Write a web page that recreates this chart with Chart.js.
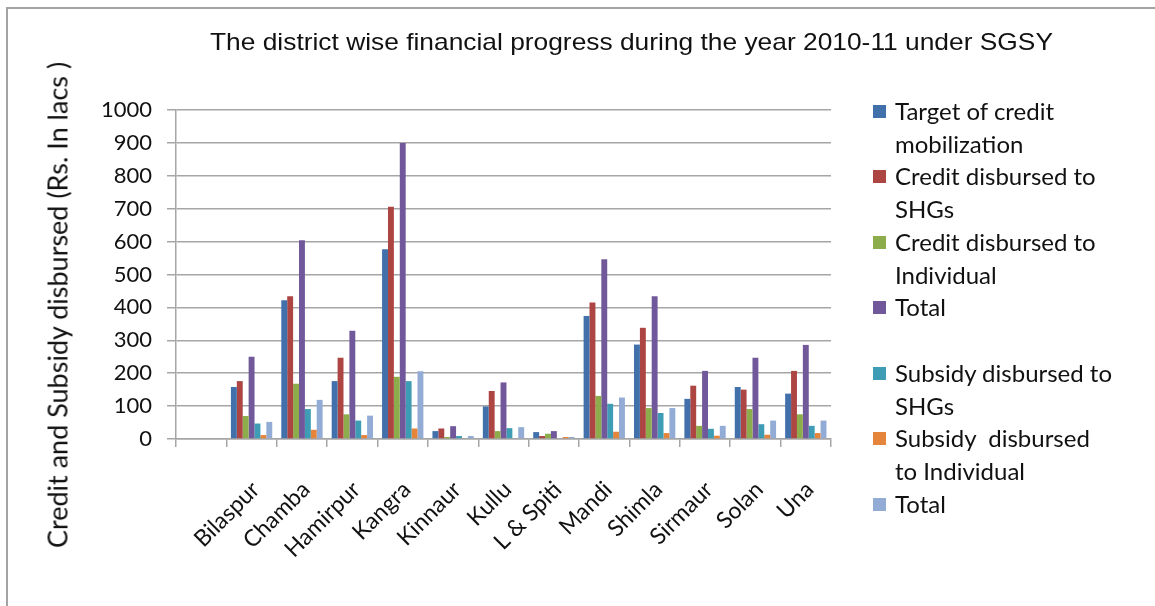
<!DOCTYPE html>
<html>
<head>
<meta charset="utf-8">
<script src="https://cdn.jsdelivr.net/npm/chart.js@4/dist/chart.umd.min.js"></script>
<style>
  html, body { margin: 0; padding: 0; background: #fff; }
  #wrap { position: relative; width: 1155px; height: 606px; overflow: hidden; }
  #frame { position: absolute; left: 6px; top: 7px; width: 1200px; height: 650px;
           border: 2px solid #a3a3a3; box-sizing: border-box; }
  #chart { position: absolute; left: 0; top: 0; }
  #title { position: absolute; left: 210px; top: 28px; white-space: nowrap;
           font-family: 'Liberation Sans Narrow', 'Liberation Sans', sans-serif;
           font-size: 24px; color: #111; transform-origin: 0 0; }
  #ytitle { position: absolute; left: 57px; top: 305px; white-space: nowrap;
            font-family: Lato, sans-serif; font-size: 27px; color: #111;
            transform: translate(-50%, -50%) rotate(-90deg); }
  #legend { position: absolute; left: 873px; top: 95px;
            font-family: Lato, sans-serif; font-size: 24px; color: #111; line-height: 32.7px; }
  .item { position: relative; padding-left: 22px; }
  .item .box { position: absolute; left: 0; top: 10px; width: 13px; height: 13px; }
  .spacer { height: 33px; }
</style>
</head>
<body>
<div id="wrap">
  <div id="frame"></div>
  <canvas id="chart" width="1155" height="606"></canvas>
  <div id="title">The district wise financial progress during the year 2010-11 under SGSY</div>
  <div id="ytitle">Credit and Subsidy disbursed (Rs. In lacs )</div>
  <div id="legend"></div>
</div>
<script>
// Districts (first slot is left empty on the axis)
const districts = ['', 'Bilaspur', 'Chamba', 'Hamirpur', 'Kangra', 'Kinnaur', 'Kullu',
  'L & Spiti', 'Mandi', 'Shimla', 'Sirmaur', 'Solan', 'Una'];

// Values in Rs. lacs
const targetCredit     = [null, 158, 422, 176, 577, 24, 99, 21, 374, 287, 122, 158, 138];
const creditSHG        = [null, 176, 434, 247, 706, 32, 146, 9, 415, 338, 162, 150, 207];
const creditIndividual = [null, 70, 168, 75, 189, 6, 24, 16, 131, 94, 40, 91, 75];
const creditTotal      = [null, 250, 604, 329, 900, 39, 172, 24, 546, 434, 207, 247, 286];
const subsidySHG       = [null, 47, 91, 56, 176, 9, 33, 0, 107, 79, 31, 45, 40];
const subsidyIndiv     = [null, 12, 28, 12, 32, 0, 0, 6, 22, 18, 10, 13, 18];
const subsidyTotal     = [null, 52, 119, 71, 206, 9, 36, 6, 126, 94, 40, 56, 56];

const yTicks = [0, 100, 200, 300, 400, 500, 600, 700, 800, 900, 1000];

const series = [
  { label: ['Target of credit', 'mobilization'], data: targetCredit, color: '#4170aa' },
  { label: ['Credit disbursed to', 'SHGs'], data: creditSHG, color: '#ad4542' },
  { label: ['Credit disbursed to', 'Individual'], data: creditIndividual, color: '#8dac4c' },
  { label: ['Total'], data: creditTotal, color: '#71589a', gapAfter: true },
  { label: ['Subsidy disbursed to', 'SHGs'], data: subsidySHG, color: '#3e9db4' },
  { label: ['Subsidy  disbursed', 'to Individual'], data: subsidyIndiv, color: '#e5853b' },
  { label: ['Total'], data: subsidyTotal, color: '#92acd6' }
];

const gridColor = '#a6a6a6';

const chart = new Chart(document.getElementById('chart'), {
  type: 'bar',
  data: {
    labels: districts,
    datasets: series.map(s => ({
      label: s.label.join(' '),
      data: s.data,
      backgroundColor: s.color,
      borderWidth: 0,
      categoryPercentage: 0.82,
      barPercentage: 1.0
    }))
  },
  options: {
    responsive: false,
    animation: false,
    layout: { padding: { left: 41, right: 324, top: 110, bottom: 0 } },
    plugins: {
      legend: { display: false },
      title: { display: false },
      tooltip: { enabled: false }
    },
    scales: {
      x: {
        offset: true,
        grid: { offset: true, drawOnChartArea: false, color: gridColor, lineWidth: 1.5, tickLength: 8 },
        border: { color: gridColor, width: 1.5 },
        ticks: { color: '#111', font: { family: 'Lato', size: 23 }, minRotation: 45, maxRotation: 45,
                 autoSkip: false, padding: 29, labelOffset: 4 },
        afterFit: scale => { scale.height = 167; }
      },
      y: {
        min: 0,
        max: 1000,
        afterBuildTicks: scale => { scale.ticks = yTicks.map(v => ({ value: v })); },
        grid: { color: gridColor, lineWidth: 1.5, tickLength: 9 },
        border: { color: gridColor, width: 1.5 },
        ticks: { color: '#111', font: { family: 'Lato', size: 22 }, padding: 15, callback: v => String(v) },
        afterFit: scale => { scale.width = 135; }
      }
    }
  }
});

// Legend with a blank row between the credit and subsidy groups
const legend = document.getElementById('legend');
series.forEach(s => {
  const item = document.createElement('div');
  item.className = 'item';
  item.innerHTML = '<span class="box" style="background:' + s.color + '"></span>' +
    s.label.map(t => t.replace(/  /g, ' &nbsp;')).join('<br>');
  legend.appendChild(item);
  if (s.gapAfter) {
    const gap = document.createElement('div');
    gap.className = 'spacer';
    legend.appendChild(gap);
  }
});

// Stretch the title across its band
const title = document.getElementById('title');
title.style.transform = 'scaleX(' + (843 / title.offsetWidth) + ')';
</script>
</body>
</html>
